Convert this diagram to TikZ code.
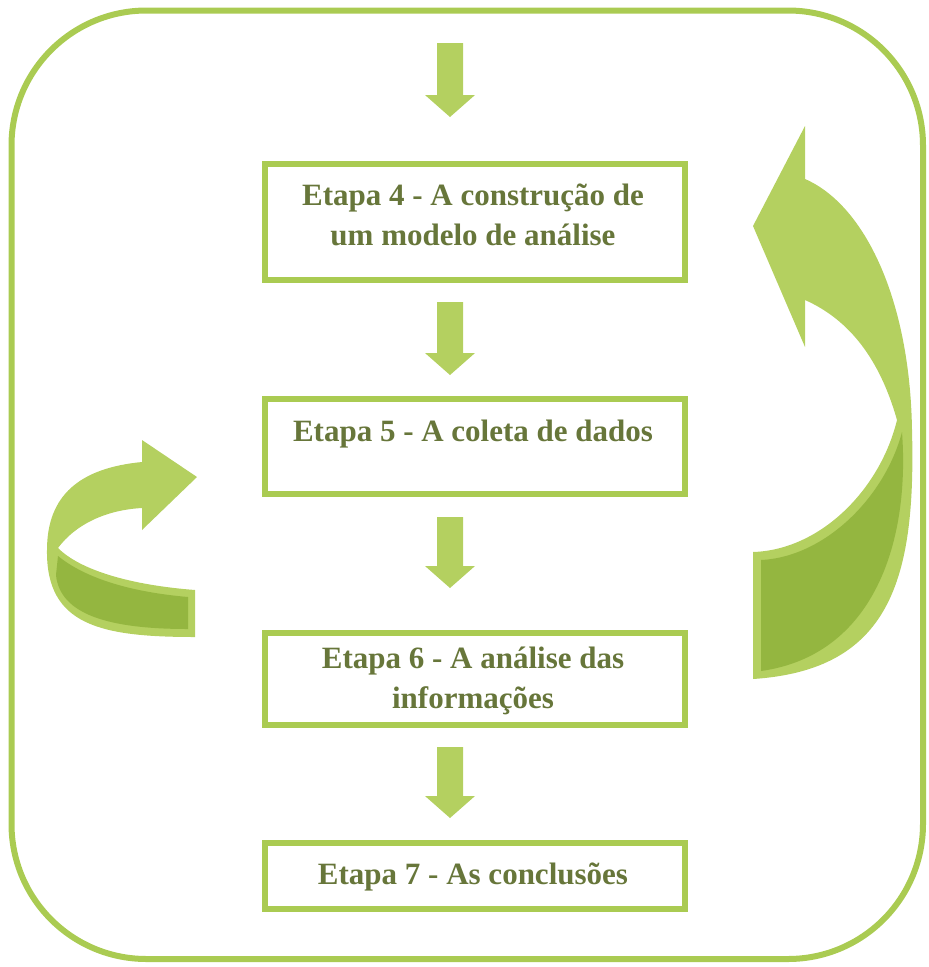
\documentclass[tikz,border=0pt]{standalone}
\usepackage{fontspec}
\setmainfont{Liberation Serif}
\definecolor{gborder}{RGB}{170,203,82}
\definecolor{glight}{RGB}{180,208,96}
\definecolor{gdark}{RGB}{148,182,64}
\definecolor{gtext}{RGB}{103,118,58}
\tikzset{
  stagebox/.style={draw=gborder, line width=6pt, fill=white, minimum width=420pt, inner sep=0pt},
  stagetext/.style={text=gtext, font=\fontsize{31}{40}\selectfont\bfseries, align=center, inner sep=0pt},
}
\begin{document}
\begin{tikzpicture}[x=1pt,y=-1pt]
\useasboundingbox (0,0) rectangle (929,967);
% outer frame
\draw[gborder, line width=6pt, rounded corners=135pt] (11.5,10.5) rectangle (923,959);

% boxes
\node[stagebox, minimum height=116pt] (b4) at (475,222) {};
\node[stagetext] (t4) at (473,215) {Etapa 4 - A construção de\\um modelo de análise};
\node[stagebox, minimum height=95pt] (b5) at (475,446.5) {};
\node[stagetext] (t5) at (473,434) {Etapa 5 - A coleta de dados};
\node[stagebox, minimum height=92pt] (b6) at (475,679) {};
\node[stagetext] (t6) at (473,681) {Etapa 6 - A análise das\\informações};
\node[stagebox, minimum height=66pt] (b7) at (475,876) {};
\node[stagetext] (t7) at (473,877) {Etapa 7 - As conclusões};

% straight arrows
\foreach \top/\tip in {43/117, 302/375, 517/588, 747/818}{
  \fill[glight] (437,\top) -- (463,\top) -- (463,\tip-22) -- (475,\tip-22) -- (450,\tip) -- (425,\tip-22) -- (437,\tip-22) -- cycle;
}

% right curved arrow
\fill[glight] (753,226) -- (805,126) -- (805,179)
  .. controls (865,205) and (910,300) .. (912,430)
  .. controls (916,580) and (890,670) .. (753,679)
  -- (753,552)
  .. controls (820,550) and (880,490) .. (897,420)
  .. controls (880,360) and (850,320) .. (805,300)
  -- (805,347) -- cycle;
\fill[gdark] (761,560) .. controls (825,557) and (885,497) .. (902,432)
  .. controls (910,540) and (875,655) .. (761,671) -- cycle;

% left curved arrow
\fill[glight] (197,477) -- (142,440) -- (142,462)
  .. controls (80,468) and (47,495) .. (47,550)
  .. controls (46,625) and (100,637) .. (195,637)
  -- (195,590)
  .. controls (130,585) and (80,570) .. (58,548)
  .. controls (75,525) and (105,510) .. (142,508)
  -- (142,530) -- cycle;
\fill[gdark] (58,556) .. controls (85,578) and (130,592) .. (188,597)
  -- (188,629) .. controls (110,629) and (60,615) .. (56,575) -- cycle;
\end{tikzpicture}
\end{document}
